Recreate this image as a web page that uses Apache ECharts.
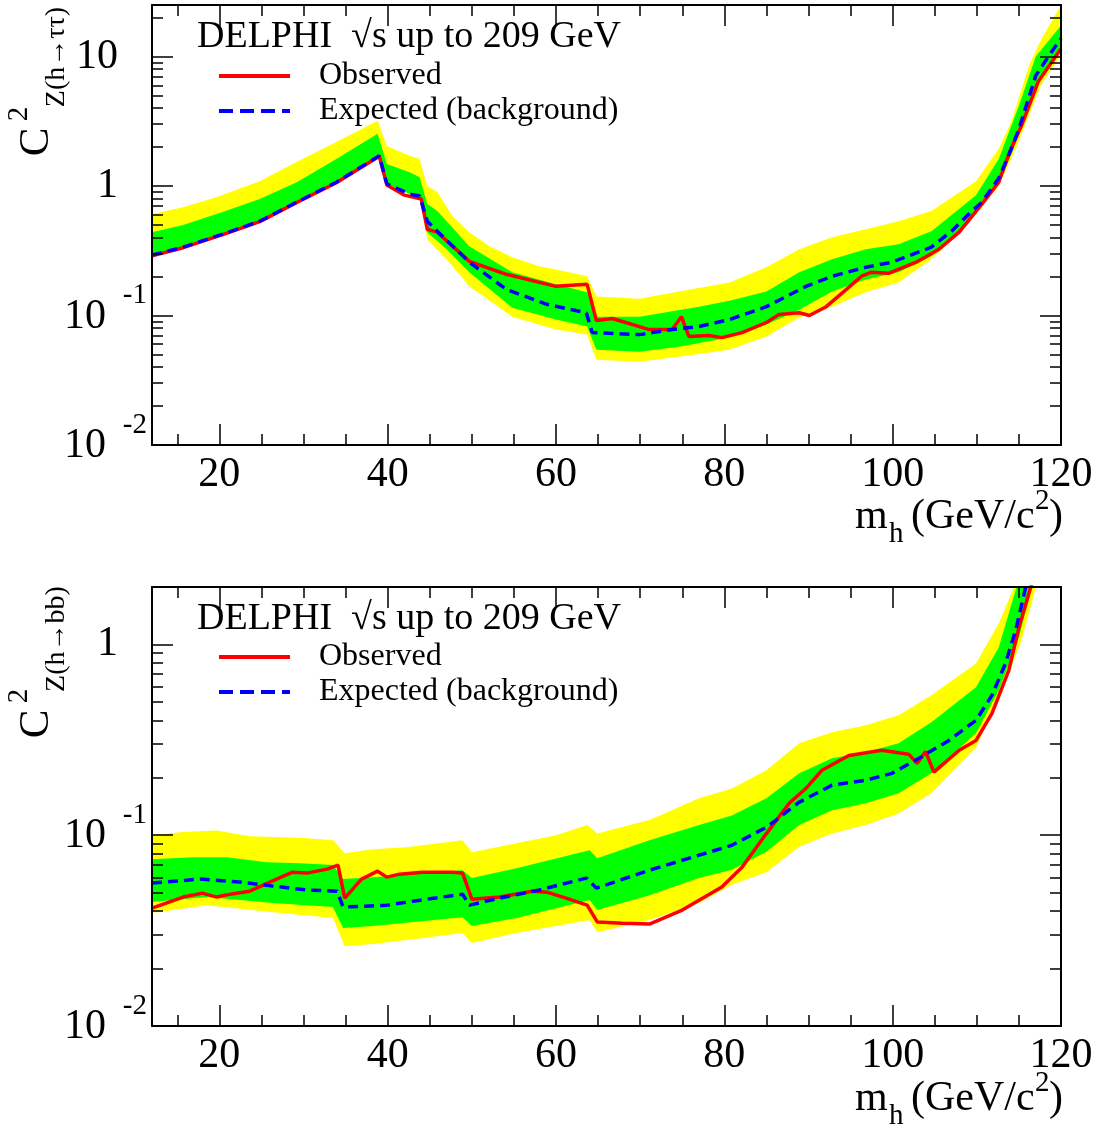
<!DOCTYPE html>
<html>
<head>
<meta charset="utf-8">
<title>DELPHI coupling limits</title>
<script src="https://cdn.jsdelivr.net/npm/echarts@6/dist/echarts.min.js"></script>
<style>
  html, body { margin: 0; padding: 0; background: #fff; }
  #chart { width: 1099px; height: 1128px; }
</style>
</head>
<body>
<div id="chart"></div>
<script>
// ---------- axis ranges and tick values ----------
const X_MIN = 12, X_MAX = 120;
const X_MAJOR = [20, 40, 60, 80, 100, 120];
const X_MINOR = [15, 25, 30, 35, 45, 50, 55, 65, 70, 75, 85, 90, 95, 105, 110, 115];
const Y_MIN = 0.01;
const Y_MAX_TAU = 25;
const Y_MAX_BB = 2;
const Y_MAJOR = [0.01, 0.1, 1, 10];
const Y_MINOR = [0.02, 0.03, 0.04, 0.05, 0.06, 0.07, 0.08, 0.09,
                 0.2, 0.3, 0.4, 0.5, 0.6, 0.7, 0.8, 0.9,
                 2, 3, 4, 5, 6, 7, 8, 9, 20];

// ---------- h -> tau tau ----------
const TT_EXP_M = [12, 15.7, 20.4, 24.8, 29.2, 33.9, 39.0, 39.9, 42.6, 43.8, 44.7, 45.9, 49.7, 54.1, 58.9, 63.6, 64.3, 69.9, 73.8, 77.0, 80.6, 85.0, 89.7, 92.8, 96.8, 99.9, 104.6, 107.0, 109.4, 110.6, 112.6, 114.1, 115.0, 117.0, 118.5, 120];
const TT_EXP = [0.293, 0.337, 0.425, 0.535, 0.751, 1.07, 1.71, 1.04, 0.867, 0.837, 0.535, 0.448, 0.258, 0.159, 0.122, 0.105, 0.0738, 0.0712, 0.0779, 0.0822, 0.0931, 0.117, 0.168, 0.201, 0.236, 0.258, 0.337, 0.448, 0.640, 0.751, 1.15, 1.94, 2.77, 7.12, 10, 13.8];

const TT_OBS_M = [12, 15.7, 20.4, 24.8, 29.2, 33.9, 39.0, 39.9, 42.0, 44.0, 44.7, 45.9, 49.7, 54.1, 60.0, 63.7, 64.8, 66.7, 71.1, 73.8, 74.9, 75.8, 78.2, 79.7, 82.1, 85.0, 86.5, 88.9, 90.1, 92.1, 94.5, 96.3, 97.5, 99.5, 102.8, 105.5, 107.9, 110.6, 112.6, 114.0, 115.3, 117.3, 120];
const TT_OBS = [0.289, 0.334, 0.421, 0.531, 0.746, 1.06, 1.70, 1.02, 0.85, 0.793, 0.464, 0.44, 0.262, 0.208, 0.168, 0.174, 0.0914, 0.0948, 0.0779, 0.0779, 0.098, 0.0688, 0.070, 0.0675, 0.0738, 0.0883, 0.102, 0.105, 0.1, 0.117, 0.159, 0.201, 0.216, 0.212, 0.258, 0.325, 0.440, 0.725, 1.07, 1.90, 2.92, 6.40, 11.5];

const TT_Y_UP_M = [12, 15.7, 19.7, 24.8, 28.7, 33.9, 38.8, 39.9, 42.6, 43.8, 44.7, 45.9, 47.7, 49.7, 52.1, 54.8, 58.0, 60.0, 63.7, 64.8, 69.9, 74.6, 80.6, 85.0, 88.9, 92.8, 96.8, 100.7, 104.6, 109.9, 112.6, 114.1, 116.2, 117.7, 120];
const TT_Y_UP = [0.607, 0.687, 0.822, 1.09, 1.48, 2.19, 3.19, 2.04, 1.71, 1.62, 1.0, 0.899, 0.585, 0.44, 0.343, 0.282, 0.240, 0.227, 0.201, 0.140, 0.135, 0.153, 0.180, 0.236, 0.325, 0.402, 0.464, 0.535, 0.640, 1.09, 1.94, 3.13, 8.51, 13.8, 24.9];

const TT_G_UP_M = [12, 15.7, 20.4, 24.8, 29.2, 33.9, 38.8, 39.9, 42.6, 43.8, 44.7, 45.9, 49.7, 54.8, 60.0, 63.7, 64.8, 69.9, 77.0, 80.6, 85.0, 88.9, 92.8, 96.8, 100.7, 104.6, 109.9, 112.6, 115.0, 117.0, 120];
const TT_G_UP = [0.440, 0.499, 0.629, 0.793, 1.07, 1.62, 2.53, 1.48, 1.28, 1.17, 0.725, 0.640, 0.343, 0.216, 0.174, 0.151, 0.098, 0.098, 0.117, 0.130, 0.153, 0.216, 0.272, 0.325, 0.355, 0.448, 0.85, 1.62, 4.17, 10, 17.4];

const TT_G_LO_M = [12, 15.7, 20.4, 24.8, 29.2, 33.9, 39.0, 39.9, 42.6, 43.8, 44.7, 47.0, 49.7, 54.8, 60.0, 63.7, 64.8, 69.9, 74.6, 80.6, 85.0, 88.9, 92.8, 96.8, 100.7, 104.6, 108.7, 112.6, 114.1, 115.3, 117.3, 120];
const TT_G_LO = [0.293, 0.337, 0.425, 0.535, 0.751, 1.07, 1.71, 1.04, 0.867, 0.837, 0.44, 0.325, 0.216, 0.115, 0.0931, 0.0822, 0.0545, 0.0526, 0.0575, 0.0675, 0.0851, 0.111, 0.153, 0.190, 0.216, 0.287, 0.508, 1.05, 1.75, 2.85, 6.2, 10.9];

const TT_Y_LO_M = [12, 15.7, 20.4, 24.8, 29.2, 33.9, 39.0, 39.9, 42.6, 43.8, 44.7, 47.0, 49.7, 54.8, 60.0, 63.7, 64.8, 69.9, 74.6, 80.6, 85.0, 88.9, 92.8, 96.8, 100.7, 104.6, 108.7, 112.6, 114.4, 115.6, 117.6, 120];
const TT_Y_LO = [0.293, 0.337, 0.425, 0.535, 0.751, 1.07, 1.71, 1.04, 0.867, 0.837, 0.388, 0.272, 0.168, 0.098, 0.0779, 0.0712, 0.0456, 0.0440, 0.0481, 0.0545, 0.0688, 0.0965, 0.117, 0.151, 0.180, 0.272, 0.490, 1.0, 1.8, 2.8, 6.0, 10.3];

// ---------- h -> b b ----------
const BB_EXP_M = [12, 17.7, 22.4, 26.4, 30.4, 34.0, 34.7, 39.9, 43.0, 48.9, 49.7, 53.3, 58.0, 63.6, 64.8, 71.1, 77.0, 80.9, 85.0, 88.9, 92.8, 96.8, 99.9, 102.7, 106.7, 109.9, 111.8, 113.4, 114.6, 115.8, 116.7];
const BB_EXP = [0.0561, 0.0589, 0.0568, 0.0541, 0.0516, 0.0509, 0.0420, 0.0430, 0.0451, 0.0491, 0.0430, 0.0468, 0.0516, 0.0596, 0.0528, 0.0656, 0.0786, 0.0886, 0.110, 0.149, 0.183, 0.194, 0.211, 0.247, 0.314, 0.400, 0.541, 0.795, 1.184, 1.99, 2.75];

const BB_OBS_M = [12, 15.7, 18.0, 19.7, 21.3, 23.6, 26.0, 28.7, 30.4, 32.8, 34.1, 34.9, 36.9, 38.8, 39.9, 41.4, 44.1, 47.7, 48.9, 50.0, 53.3, 57.2, 58.9, 61.2, 63.7, 64.9, 67.9, 71.1, 75.0, 79.7, 82.1, 85.0, 87.7, 89.7, 91.6, 94.8, 98.7, 101.9, 102.9, 103.9, 104.9, 107.9, 109.9, 111.8, 113.8, 115.0, 116.4, 117.3];
const BB_OBS = [0.0415, 0.0474, 0.0497, 0.0474, 0.0491, 0.0509, 0.0568, 0.0640, 0.0633, 0.0664, 0.0697, 0.0468, 0.0589, 0.0648, 0.0603, 0.0625, 0.0640, 0.0640, 0.0633, 0.0462, 0.0474, 0.0509, 0.0503, 0.0468, 0.0430, 0.0351, 0.0346, 0.0342, 0.0405, 0.0535, 0.0680, 0.102, 0.147, 0.176, 0.219, 0.262, 0.279, 0.266, 0.238, 0.275, 0.214, 0.279, 0.314, 0.435, 0.731, 1.227, 1.99, 2.75];

const BB_Y_UP_M = [12, 15.7, 19.7, 23.6, 27.5, 30.4, 33.5, 34.9, 38.2, 42.3, 48.9, 50.0, 55.3, 60.0, 63.7, 64.9, 71.1, 77.0, 80.9, 85.0, 88.9, 92.8, 96.8, 100.7, 104.6, 109.9, 112.6, 114.4, 115.0];
const BB_Y_UP = [0.1, 0.104, 0.106, 0.0988, 0.0977, 0.0965, 0.0942, 0.0805, 0.0845, 0.0865, 0.0942, 0.0815, 0.0908, 0.1, 0.113, 0.102, 0.120, 0.156, 0.176, 0.219, 0.303, 0.346, 0.377, 0.425, 0.541, 0.795, 1.288, 1.99, 2.4];

const BB_G_UP_M = [12, 16.9, 20.9, 25.6, 29.6, 33.5, 34.7, 38.2, 48.9, 50.0, 55.3, 64.0, 64.9, 71.1, 77.0, 80.9, 85.0, 88.9, 92.8, 96.8, 100.7, 104.6, 109.9, 112.6, 114.7, 115.2];
const BB_G_UP = [0.0749, 0.0767, 0.0767, 0.0722, 0.0714, 0.0697, 0.0589, 0.0603, 0.0656, 0.0596, 0.0672, 0.0835, 0.0758, 0.0942, 0.113, 0.127, 0.156, 0.211, 0.253, 0.272, 0.303, 0.391, 0.596, 0.964, 1.99, 2.4];

const BB_G_LO_M = [12, 18.5, 26.4, 33.5, 34.7, 38.2, 48.9, 50.0, 55.3, 64.0, 64.9, 71.1, 77.0, 80.9, 85.0, 88.9, 92.8, 96.8, 100.7, 104.6, 109.9, 112.6, 115.0, 116.5, 117.0];
const BB_G_LO = [0.0446, 0.0474, 0.0441, 0.0420, 0.0326, 0.0334, 0.0372, 0.0334, 0.0368, 0.0457, 0.0405, 0.0485, 0.0596, 0.066, 0.082, 0.113, 0.135, 0.147, 0.166, 0.211, 0.342, 0.574, 1.088, 1.99, 2.3];

const BB_Y_LO_M = [12, 18.5, 26.4, 33.5, 34.9, 38.2, 42.3, 48.9, 50.0, 55.3, 64.0, 64.9, 71.1, 77.0, 80.9, 85.0, 88.9, 92.8, 96.8, 100.7, 104.6, 109.9, 112.6, 115.3, 117.0, 117.3];
const BB_Y_LO = [0.0391, 0.0430, 0.0395, 0.0368, 0.0262, 0.0269, 0.0282, 0.0307, 0.0272, 0.0307, 0.0359, 0.0310, 0.0359, 0.0441, 0.055, 0.064, 0.087, 0.102, 0.113, 0.130, 0.166, 0.289, 0.509, 1.049, 1.99, 2.2];

// ---------- styling ----------
const SERIF = "'Liberation Serif', 'Times New Roman', serif";
const INK = '#000';
const YELLOW = '#ffff00';
const GREEN = '#00ff00';
const RED = '#ff0000';
const BLUE = '#0000ff';

const GRIDS = [
  { left: 152, top: 5, width: 909, height: 440 },
  { left: 152, top: 587, width: 909, height: 439 }
];

const zip = (m, v) => m.map((x, i) => [x, v[i]]);

function xAxesFor(g) {
  const base = { gridIndex: g, type: 'value', min: X_MIN, max: X_MAX, splitLine: { show: false }, z: 10 };
  const line = { show: true, onZero: false, lineStyle: { color: INK, width: 2 } };
  const major = { show: true, inside: true, length: 21, customValues: X_MAJOR, lineStyle: { color: INK, width: 1.5 } };
  const minor = { show: true, inside: true, length: 11, customValues: X_MINOR, lineStyle: { color: INK, width: 1.5 } };
  return [
    Object.assign({}, base, {
      position: 'bottom', axisLine: line, axisTick: major,
      axisLabel: { show: true, customValues: X_MAJOR, margin: 9, fontSize: 42, lineHeight: 42, fontFamily: SERIF, color: INK }
    }),
    Object.assign({}, base, { position: 'bottom', axisLine: { show: false }, axisTick: minor, axisLabel: { show: false } }),
    Object.assign({}, base, { position: 'top', axisLine: line, axisTick: major, axisLabel: { show: false } }),
    Object.assign({}, base, { position: 'top', axisLine: { show: false }, axisTick: minor, axisLabel: { show: false } })
  ];
}

function yLabel(v) {
  const e = Math.round(Math.log10(v));
  if (e >= 0) return '{p|' + Math.round(v) + '}';
  return '{e|' + e + '}\n{b|10}';
}

function yAxesFor(g, yMax) {
  const base = { gridIndex: g, type: 'log', logBase: 10, min: Y_MIN, max: yMax, splitLine: { show: false }, z: 10 };
  const line = { show: true, onZero: false, lineStyle: { color: INK, width: 2 } };
  const major = { show: true, inside: true, length: 21, customValues: Y_MAJOR, lineStyle: { color: INK, width: 1.5 } };
  const minor = { show: true, inside: true, length: 11, customValues: Y_MINOR, lineStyle: { color: INK, width: 1.5 } };
  return [
    Object.assign({}, base, {
      position: 'left', axisLine: line, axisTick: major,
      axisLabel: {
        show: true, customValues: Y_MAJOR, margin: 5, formatter: yLabel,
        rich: {
          p: { fontSize: 42, lineHeight: 42, fontFamily: SERIF, color: INK, padding: [0, 29, 0, 0] },
          e: { fontSize: 29, lineHeight: 18, fontFamily: SERIF, color: INK },
          b: { fontSize: 42, lineHeight: 40, fontFamily: SERIF, color: INK, padding: [0, 41, 16, 0] }
        }
      }
    }),
    Object.assign({}, base, { position: 'left', axisLine: { show: false }, axisTick: minor, axisLabel: { show: false } }),
    Object.assign({}, base, { position: 'right', axisLine: line, axisTick: major, axisLabel: { show: false } }),
    Object.assign({}, base, { position: 'right', axisLine: { show: false }, axisTick: minor, axisLabel: { show: false } })
  ];
}

// filled band between an upper and a lower edge, mapped through the axes
function band(g, upM, upV, loM, loV, color) {
  return {
    type: 'custom', xAxisIndex: g * 4, yAxisIndex: g * 4, clip: true, silent: true, z: 1,
    data: [[upM[0], upV[0]]],
    renderItem: function (params, api) {
      const pts = [];
      for (let i = 0; i < upM.length; i++) pts.push(api.coord([upM[i], upV[i]]));
      for (let i = loM.length - 1; i >= 0; i--) pts.push(api.coord([loM[i], loV[i]]));
      return { type: 'polygon', shape: { points: pts }, style: { fill: color } };
    }
  };
}

function lines(g, obsM, obs, expM, exp) {
  return [
    {
      name: 'Observed', type: 'line', xAxisIndex: g * 4, yAxisIndex: g * 4,
      data: zip(obsM, obs), showSymbol: false, symbol: 'none', z: 3, clip: true,
      lineStyle: { color: RED, width: 3.5 }, itemStyle: { color: RED }
    },
    {
      name: 'Expected (background)', type: 'line', xAxisIndex: g * 4, yAxisIndex: g * 4,
      data: zip(expM, exp), showSymbol: false, symbol: 'none', z: 4, clip: true,
      lineStyle: { color: BLUE, width: 3.5, type: [10, 6] }, itemStyle: { color: BLUE }
    }
  ];
}

function legendFor(top) {
  return {
    data: [
      { name: 'Observed', lineStyle: { width: 4 } },
      { name: 'Expected (background)', lineStyle: { width: 4, type: [14, 7] } }
    ],
    orient: 'vertical',
    left: 217, top: top, padding: 0, itemWidth: 71, itemHeight: 14, itemGap: 3,
    selectedMode: false,
    itemStyle: { opacity: 0 },
    lineStyle: { width: 4 },
    textStyle: { fontSize: 32, lineHeight: 32, fontFamily: SERIF, color: INK, padding: [0, 0, 0, 24] }
  };
}

function headline(top) {
  return {
    text: 'DELPHI  \u221As up to 209 GeV', left: 197, top: top, padding: 0,
    textStyle: { fontSize: 38, lineHeight: 40, fontFamily: SERIF, fontWeight: 'normal', color: INK }
  };
}

function txt(x, y, s, size, align, rot) {
  return {
    type: 'text', x: x, y: y, rotation: rot || 0, silent: true, z: 20,
    style: { text: s, fontSize: size, fontFamily: SERIF, fill: INK, align: align || 'left', verticalAlign: 'middle' }
  };
}

function titlesFor(dy, sub) {
  const R = Math.PI / 2;
  return [
    // vertical axis title: C^2 with subscript
    txt(37, 142 + dy, 'C', 43, 'center', R),
    txt(19, 114 + dy, '2', 29, 'center', R),
    txt(57, 57 + dy, sub, 28, 'center', R),
    // horizontal axis title: m_h (GeV/c^2)
    txt(855, 517 + dy, 'm', 42),
    txt(889, 534 + dy, 'h', 29),
    txt(911, 517 + dy, '(GeV/c', 42),
    txt(1035, 501 + dy, '2', 29),
    txt(1049, 517 + dy, ')', 42)
  ];
}

const chart = echarts.init(document.getElementById('chart'), null, { renderer: 'canvas' });
chart.setOption({
  animation: false,
  backgroundColor: '#fff',
  title: [headline(17), headline(599)],
  legend: [legendFor(60), legendFor(641)],
  grid: GRIDS.map(g => Object.assign({ containLabel: false }, g)),
  xAxis: xAxesFor(0).concat(xAxesFor(1)),
  yAxis: yAxesFor(0, Y_MAX_TAU).concat(yAxesFor(1, Y_MAX_BB)),
  graphic: { elements: titlesFor(0, 'Z(h\u2192\u03C4\u03C4)').concat(titlesFor(582, 'Z(h\u2192bb)')) },
  series: [
    band(0, TT_Y_UP_M, TT_Y_UP, TT_Y_LO_M, TT_Y_LO, YELLOW),
    band(0, TT_G_UP_M, TT_G_UP, TT_G_LO_M, TT_G_LO, GREEN),
    ...lines(0, TT_OBS_M, TT_OBS, TT_EXP_M, TT_EXP),
    band(1, BB_Y_UP_M, BB_Y_UP, BB_Y_LO_M, BB_Y_LO, YELLOW),
    band(1, BB_G_UP_M, BB_G_UP, BB_G_LO_M, BB_G_LO, GREEN),
    ...lines(1, BB_OBS_M, BB_OBS, BB_EXP_M, BB_EXP)
  ]
});
</script>
</body>
</html>
